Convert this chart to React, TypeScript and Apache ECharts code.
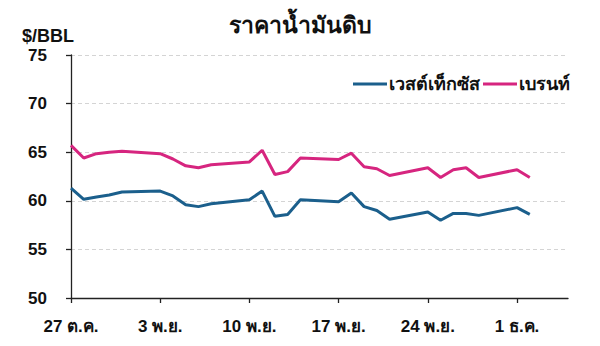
import React, { useEffect, useRef } from "react";
import * as echarts from "echarts";

const startDate = "2025-10-27";
const dates = [
  "2025-10-27", "2025-10-28", "2025-10-29", "2025-10-30", "2025-10-31",
  "2025-11-03", "2025-11-04", "2025-11-05", "2025-11-06", "2025-11-07",
  "2025-11-10", "2025-11-11", "2025-11-12", "2025-11-13", "2025-11-14",
  "2025-11-17", "2025-11-18", "2025-11-19", "2025-11-20", "2025-11-21",
  "2025-11-24", "2025-11-25", "2025-11-26", "2025-11-27", "2025-11-28",
  "2025-12-01", "2025-12-02",
];
const wti = [
  61.3, 60.15, 60.4, 60.6, 60.9,
  61.0, 60.5, 59.6, 59.4, 59.7,
  60.1, 61.0, 58.4, 58.6, 60.1,
  59.9, 60.8, 59.4, 59.0, 58.1,
  58.85, 58.0, 58.7, 58.7, 58.5,
  59.3, 58.6,
];
const brent = [
  65.7, 64.4, 64.85, 65.0, 65.1,
  64.85, 64.3, 63.6, 63.4, 63.7,
  64.0, 65.2, 62.7, 63.0, 64.4,
  64.25, 64.9, 63.5, 63.3, 62.6,
  63.4, 62.4, 63.2, 63.4, 62.4,
  63.2, 62.4,
];
const tickLabels = ["27 ต.ค.", "3 พ.ย.", "10 พ.ย.", "17 พ.ย.", "24 พ.ย.", "1 ธ.ค."];
const seriesNames = ["เวสต์เท็กซัส", "เบรนท์"];
const title = "ราคาน้ำมันดิบ";
const unit = "$/BBL";

const DAY = 86400000;
const dayIndex = (d: string) => Math.round((Date.parse(d) - Date.parse(startDate)) / DAY);

const FONT = "Arial, 'Liberation Sans', 'Noto Sans', sans-serif";

export default function App() {
  const ref = useRef<HTMLDivElement>(null);
  useEffect(() => {
    if (!ref.current) return;
    const chart = echarts.init(ref.current, undefined, { renderer: "svg" });
    const toData = (vals: number[]) => dates.map((d, i) => [dayIndex(d), vals[i]]);
    chart.setOption({
      animation: false,
      backgroundColor: "#ffffff",
      title: {
        text: title,
        left: "center",
        top: 8,
        textStyle: { fontFamily: FONT, fontSize: 23, fontWeight: "bold", color: "#111" },
      },
      graphic: [
        {
          type: "text",
          left: 22,
          top: 27,
          style: { text: unit, fontFamily: FONT, fontSize: 18, fontWeight: "bold", fill: "#111" },
        },
      ],
      legend: {
        right: 25,
        top: 70,
        itemWidth: 34,
        itemHeight: 3,
        itemGap: 3,
        icon: "rect",
        textStyle: { fontFamily: FONT, fontSize: 18, fontWeight: "bold", color: "#111", padding: [0, 0, 0, -3] },
        data: seriesNames,
      },
      grid: { left: 71, right: 32, top: 55, bottom: 48 },
      xAxis: {
        type: "value",
        min: 0,
        max: 39,
        interval: 7,
        splitLine: { show: false },
        axisLine: { lineStyle: { color: "#222", width: 1.3 } },
        axisTick: { show: true, length: 5, lineStyle: { color: "#222", width: 1.3 } },
        axisLabel: {
          margin: 20,
          fontFamily: FONT,
          fontSize: 17,
          fontWeight: "bold",
          color: "#111",
          showMaxLabel: false,
          formatter: (v: number) => tickLabels[Math.round(v / 7)] ?? "",
        },
      },
      yAxis: {
        type: "value",
        min: 50,
        max: 75,
        interval: 5,
        splitLine: { show: true, lineStyle: { color: "#d4d4d4", type: [4, 3], width: 1 } },
        axisLine: { show: true, lineStyle: { color: "#222", width: 1.3 } },
        axisTick: { show: true, length: 5, lineStyle: { color: "#222", width: 1.3 } },
        axisLabel: {
          margin: 24,
          fontFamily: FONT,
          fontSize: 17,
          fontWeight: "bold",
          color: "#111",
        },
      },
      series: [
        {
          name: seriesNames[0],
          type: "line",
          data: toData(wti),
          showSymbol: false,
          lineStyle: { color: "#1b5f8c", width: 3 },
          itemStyle: { color: "#1b5f8c" },
        },
        {
          name: seriesNames[1],
          type: "line",
          data: toData(brent),
          showSymbol: false,
          lineStyle: { color: "#d6257f", width: 3 },
          itemStyle: { color: "#d6257f" },
        },
      ],
    });
    return () => chart.dispose();
  }, []);
  return <div ref={ref} style={{ width: 600, height: 346, position: "absolute", left: 0, top: 0 }} />;
}
